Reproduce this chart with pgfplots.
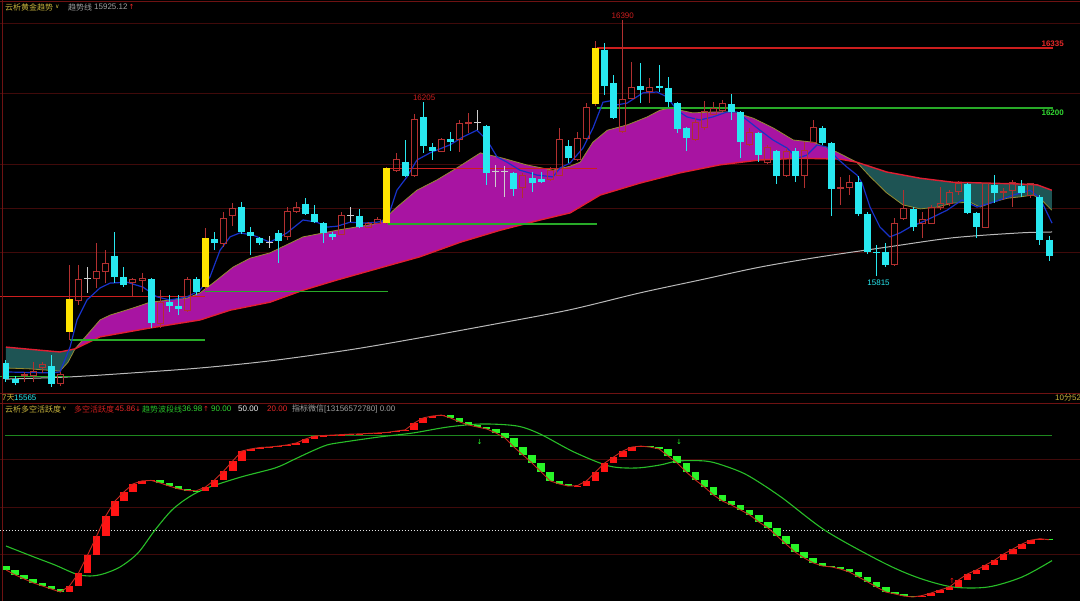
\documentclass[border=0pt]{standalone}
\usepackage{pgfplots}
\pgfplotsset{compat=1.18}
\usepackage{pgfplotstable}
\usepgfplotslibrary{fillbetween}
\usepackage{fontspec}
\setmainfont{Liberation Sans}
\newfontfamily\cjk{Noto Sans CJK SC}
\newfontfamily\dv{DejaVu Sans}

\definecolor{cyanc}{RGB}{40,232,240}
\definecolor{upred}{RGB}{178,48,48}
\definecolor{yel}{RGB}{255,228,0}
\definecolor{dojic}{RGB}{205,205,205}
\definecolor{magc}{RGB}{168,20,162}
\definecolor{tealc}{RGB}{30,84,84}
\definecolor{slowc}{RGB}{225,30,50}
\definecolor{fastc}{RGB}{150,140,50}
\definecolor{bluec}{RGB}{24,50,200}
\definecolor{greyc}{RGB}{185,185,185}
\definecolor{gridc}{RGB}{64,10,10}
\definecolor{framec}{RGB}{110,18,18}
\definecolor{lvred}{RGB}{205,30,30}
\definecolor{lvgreen}{RGB}{40,170,40}
\definecolor{lblred}{RGB}{230,40,40}
\definecolor{lblgreen}{RGB}{50,215,50}
\definecolor{hdr}{RGB}{200,180,60}
\definecolor{txtgrey}{RGB}{160,160,160}
\definecolor{oscred}{RGB}{255,20,20}
\definecolor{oscgreen}{RGB}{40,245,40}
\definecolor{osclinec}{RGB}{200,40,30}
\definecolor{siggreen}{RGB}{40,190,40}
\definecolor{line90}{RGB}{30,135,30}
\pagecolor{black}

% candles: i open high low close
\pgfplotstableread{
i o h l c
0 15618 15625 15576 15582
1 15582 15589 15568 15573
5 15611 15636 15565 15570
12 15859 15913 15798 15812
13 15812 15834 15789 15794
16 15807 15809 15697 15708
18 15755 15771 15733 15746
19 15746 15771 15726 15740
21 15807 15812 15771 15778
23 15897 15913 15872 15888
26 15969 15980 15908 15913
27 15913 15924 15861 15904
28 15899 15901 15884 15888
30 15911 15917 15843 15893
33 15976 15989 15951 15953
34 15953 15974 15933 15935
35 15933 15935 15888 15911
36 15908 15913 15895 15902
39 15949 15965 15922 15924
44 16070 16120 16037 16039
46 16172 16205 16091 16106
47 16104 16113 16075 16095
49 16122 16138 16095 16115
53 16151 16154 16019 16046
56 16046 16048 15994 16010
58 16034 16048 16003 16023
59 16032 16048 16023 16025
62 16106 16120 16068 16079
66 16322 16338 16221 16241
67 16248 16266 16167 16169
70 16241 16293 16203 16232
72 16241 16289 16228 16237
73 16237 16262 16194 16205
74 16203 16205 16136 16145
75 16147 16149 16095 16124
80 16201 16223 16165 16183
81 16183 16185 16080 16115
83 16136 16138 16070 16086
85 16095 16097 16021 16039
87 16095 16102 16025 16039
90 16147 16151 16109 16113
91 16113 16115 15949 16010
94 16025 16039 15949 15953
95 15953 15958 15863 15868
96 15868 15884 15815 15866
97 15868 15888 15834 15839
100 15965 15969 15915 15924
106 16021 16023 15953 15956
107 15956 15958 15899 15924
109 16019 16041 15978 16001
112 16016 16030 15992 16001
114 15992 15996 15884 15895
115 15895 15904 15848 15859
}\downT

\pgfplotstableread{
i o h l c
2 15589 15598 15576 15593
3 15591 15620 15576 15598
4 15607 15620 15596 15614
6 15573 15598 15566 15593
8 15758 15839 15749 15807
10 15809 15888 15787 15823
11 15825 15872 15798 15843
14 15800 15809 15767 15805
15 15803 15821 15778 15809
17 15706 15782 15697 15755
20 15737 15812 15733 15807
24 15888 15958 15879 15944
25 15949 15978 15926 15965
31 15902 15969 15895 15960
32 15958 15980 15956 15969
37 15908 15958 15906 15949
40 15924 15935 15922 15931
41 15933 15947 15931 15940
43 16052 16091 16048 16075
45 16041 16178 16037 16167
48 16095 16124 16093 16122
50 16122 16165 16093 16156
51 16156 16181 16136 16160
57 16014 16046 15989 16041
60 16030 16059 16028 16052
61 16041 16147 16039 16120
63 16075 16138 16073 16124
64 16124 16203 16120 16194
68 16138 16390 16136 16210
69 16214 16295 16212 16237
71 16230 16259 16203 16237
76 16120 16169 16118 16160
77 16147 16208 16142 16183
78 16178 16205 16176 16190
79 16187 16210 16183 16201
82 16109 16147 16106 16136
84 16070 16109 16066 16104
86 16039 16102 16037 16093
88 16039 16115 16012 16097
89 16115 16165 16113 16149
92 16010 16037 15974 16014
93 16014 16041 15996 16025
98 15839 15944 15836 15931
99 15944 16007 15940 15965
101 15933 15958 15899 15940
102 15933 15974 15931 15969
103 15969 16014 15962 15978
104 15978 16007 15971 16001
105 16003 16028 15996 16021
108 15924 16023 15922 16021
110 16001 16012 15985 16005
111 16007 16030 15969 16025
113 15996 16021 15989 16021
}\upT

\pgfplotstableread{
i o h l c
7 15688 15839 15670 15762
22 15789 15922 15782 15899
42 15933 16059 15931 16057
65 16201 16343 16196 16327
}\yelT

\pgfplotstableread{
i o h l c
9 15809 15834 15776 15810
29 15890 15904 15877 15891
38 15949 15969 15935 15950
52 16160 16187 16142 16161
54 16048 16064 16014 16048
55 16048 16061 15992 16048
}\dojiT

\pgfplotstableread{
i p
0 15607
2.65 15605
5.95 15600
6.84 15620
7.61 15650
8.16 15663
10.36 15715
11.47 15726
14.0 15742
15.88 15755
19.96 15764
21.39 15776
22.82 15798
25.03 15834
26.9 15854
29.1 15866
32.75 15902
36.5 15917
41.2 15933
43.1 15969
45.3 16007
47.5 16030
49.7 16057
52.3 16091
54.8 16079
57.4 16064
60.3 16052
62.2 16061
63.3 16070
64.7 16115
66.3 16142
68.5 16154
70.7 16172
72.1 16187
73.2 16192
75.7 16181
77.9 16183
80.2 16183
82.4 16169
84.6 16147
86.8 16120
89.0 16115
91.6 16093
93.8 16070
95.3 16037
97.1 16001
98.9 15974
100.8 15965
102.6 15969
104.4 15978
106.3 15980
107.4 15969
108.8 15980
110.4 15989
111.8 15992
113.2 15996
114.0 15989
115.3 15962
}\fastT

\pgfplotstableread{
i p
0 15654
3.75 15647
5.95 15643
7.61 15650
10.36 15677
15.88 15697
21.39 15715
24.7 15737
29.1 15755
32.75 15782
36.5 15805
41.2 15832
45.6 15857
50.1 15890
54.5 15917
58.9 15940
62.2 15956
65.5 15996
69.9 16023
74.3 16046
78.7 16064
83.1 16075
87.5 16079
91.95 16077
93.8 16070
97.1 16048
100.8 16034
104.4 16025
108.2 16023
111.8 16021
113.7 16019
115.3 16007
}\slowT

\pgfplotstableread{
i p
0.11 15598
4.85 15596
5.95 15598
7.06 15654
7.83 15715
8.93 15760
10.36 15787
11.47 15798
13.34 15800
15.1 15789
16.65 15767
18.08 15760
19.96 15767
21.39 15782
22.49 15812
23.6 15872
24.7 15902
25.8 15911
27.23 15906
29.1 15890
30.98 15911
32.75 15940
34.29 15935
35.39 15924
36.49 15926
37.93 15935
39.36 15933
40.9 15935
42.0 15940
43.1 16007
44.21 16037
45.31 16075
46.75 16091
48.95 16109
50.39 16127
51.93 16142
53.03 16120
54.13 16082
55.24 16070
56.67 16052
58.55 16041
60.31 16037
61.08 16057
62.18 16068
63.62 16102
64.72 16147
65.82 16205
66.59 16208
67.37 16199
68.47 16203
70.23 16226
71.77 16228
72.88 16217
73.98 16187
75.08 16172
76.52 16165
77.95 16172
79.49 16183
80.6 16183
81.7 16165
83.13 16142
84.56 16120
86.11 16102
87.21 16079
88.31 16086
89.42 16109
90.52 16104
91.62 16079
92.72 16059
93.83 16041
94.38 16023
95.26 15969
96.36 15924
97.46 15902
98.57 15911
99.67 15924
101.54 15940
103.75 15962
105.4 15985
107.06 15969
108.82 15980
111.03 15996
112.9 16007
114.0 15989
115.33 15933
}\blueT

\pgfplotstableread{
i p
0 15582
7.06 15587
14.0 15596
21.39 15607
29.1 15623
37.93 15648
45.65 15675
54.47 15708
62.18 15738
69.9 15776
76.52 15805
83.13 15834
89.75 15857
97.13 15879
104.41 15900
111.8 15911
115.33 15913
}\greyT

% oscillator: i previous value, value
\pgfplotstableread{
i p v
7 23.6 26.2
8 26.2 31.7
9 31.7 39.4
10 39.4 47.5
11 47.5 56.0
12 56.0 62.3
13 62.3 66.2
14 66.2 69.6
15 69.6 70.9
16 70.9 71.1
22 66.7 68.3
23 68.3 71.3
24 71.3 75.1
25 75.1 79.4
26 79.4 83.6
27 83.6 84.5
28 84.5 85.1
29 85.1 85.3
30 85.3 85.7
31 85.7 86.2
32 86.2 87.0
33 87.0 88.7
34 88.7 90.0
35 90.0 90.2
36 90.2 90.4
37 90.4 90.6
38 90.6 90.8
39 90.8 90.9
40 90.9 91.1
41 91.1 91.3
42 91.3 91.5
43 91.5 92.1
44 92.1 92.6
45 92.6 95.5
46 95.5 97.7
47 97.7 98.5
48 98.5 98.9
63 68.7 68.9
64 68.9 70.9
65 70.9 74.7
66 74.7 78.5
67 78.5 81.1
68 81.1 83.6
69 83.6 85.3
70 85.3 85.7
101 21.5 22.1
102 22.1 23.2
103 23.2 24.5
104 24.5 25.7
105 25.7 28.7
106 28.7 31.3
107 31.3 33.0
108 33.0 35.1
109 35.1 37.2
110 37.2 39.8
111 39.8 41.9
112 41.9 44.0
113 44.0 45.7
114 45.7 46.3
}\riseT

\pgfplotstableread{
i p v
0 34.5 33.0
1 33.0 30.9
2 30.9 29.2
3 29.2 27.5
4 27.5 26.2
5 26.2 24.9
6 24.9 23.6
17 71.1 70.0
18 70.0 68.7
19 68.7 67.5
20 67.5 66.8
21 66.8 66.7
49 98.9 97.7
50 97.7 96.0
51 96.0 94.7
52 94.7 93.8
53 93.8 93.0
54 93.0 91.3
55 91.3 89.2
56 89.2 85.3
57 85.3 81.9
58 81.9 78.5
59 78.5 74.7
60 74.7 70.9
61 70.9 69.6
62 69.6 68.7
71 85.7 85.3
72 85.3 84.5
73 84.5 81.5
74 81.5 78.5
75 78.5 74.7
76 74.7 71.3
77 71.3 68.3
78 68.3 64.9
79 64.9 62.3
80 62.3 60.6
81 60.6 58.5
82 58.5 56.4
83 56.4 53.4
84 53.4 50.9
85 50.9 47.5
86 47.5 44.0
87 44.0 40.6
88 40.6 38.1
89 38.1 36.0
90 36.0 34.7
91 34.7 34.3
92 34.3 33.4
93 33.4 32.1
94 32.1 30.0
95 30.0 27.9
96 27.9 25.7
97 25.7 23.6
98 23.6 22.8
99 22.8 21.9
100 21.9 21.5
115 46.3 45.86
}\fallT

\pgfplotstableread{
i v
0 33.0
1 30.9
2 29.2
3 27.5
4 26.2
5 24.9
6 23.6
7 26.2
8 31.7
9 39.4
10 47.5
11 56.0
12 62.3
13 66.2
14 69.6
15 70.9
16 71.1
17 70.0
18 68.7
19 67.5
20 66.8
21 66.7
22 68.3
23 71.3
24 75.1
25 79.4
26 83.6
27 84.5
28 85.1
29 85.3
30 85.7
31 86.2
32 87.0
33 88.7
34 90.0
35 90.2
36 90.4
37 90.6
38 90.8
39 90.9
40 91.1
41 91.3
42 91.5
43 92.1
44 92.6
45 95.5
46 97.7
47 98.5
48 98.9
49 97.7
50 96.0
51 94.7
52 93.8
53 93.0
54 91.3
55 89.2
56 85.3
57 81.9
58 78.5
59 74.7
60 70.9
61 69.6
62 68.7
63 68.9
64 70.9
65 74.7
66 78.5
67 81.1
68 83.6
69 85.3
70 85.7
71 85.3
72 84.5
73 81.5
74 78.5
75 74.7
76 71.3
77 68.3
78 64.9
79 62.3
80 60.6
81 58.5
82 56.4
83 53.4
84 50.9
85 47.5
86 44.0
87 40.6
88 38.1
89 36.0
90 34.7
91 34.3
92 33.4
93 32.1
94 30.0
95 27.9
96 25.7
97 23.6
98 22.8
99 21.9
100 21.5
101 22.1
102 23.2
103 24.5
104 25.7
105 28.7
106 31.3
107 33.0
108 35.1
109 37.2
110 39.8
111 41.9
112 44.0
113 45.7
114 46.3
115 45.86
}\oscT

\pgfplotstableread{
i v
0 43.19
3.09 38.51
5.40 35.11
7.72 31.28
9.26 30.43
10.69 31.28
12.57 34.26
14.55 40.21
16.43 50.0
18.30 58.51
20.18 64.04
22.16 67.87
25.91 72.55
29.66 76.38
31.64 79.79
33.52 83.19
35.39 86.17
37.27 87.45
41.12 89.57
44.87 91.28
48.73 93.83
52.48 95.11
56.34 94.26
58.88 90.85
62.62 83.19
66.48 77.23
69.46 76.38
72.11 77.66
74.09 79.36
77.07 79.36
78.94 77.66
81.70 73.40
85.45 64.04
90.41 49.57
96.80 35.96
100.66 29.57
104.41 25.74
108.27 25.74
112.02 30.0
115.33 36.98
}\sigT

\pgfplotsset{
  panel/.style={hide axis, scale only axis, width=1080pt, xmin=-0.6615, xmax=118.412, clip=true, anchor=north west, axis background/.style={fill=black}},
  wick/.style={line width=1pt},
  body/.style={line width=7pt, line cap=butt},
  gridline/.style={gridc, line width=0.6pt, on layer=axis grid},
}

\begin{document}
\begin{tikzpicture}[every node/.style={inner sep=0pt, font=\fontsize{8}{9.6}\selectfont}]
\fill[black] (0pt,-391pt) rectangle (1080pt,-404pt);

% ---------------- top panel ----------------
\begin{axis}[panel, at={(0pt,0pt)}, height=392pt, ymin=15553, ymax=16435]
\addplot[gridline] coordinates {(-1,16383) (119,16383)};
\addplot[gridline] coordinates {(-1,16224) (119,16224)};
\addplot[gridline] coordinates {(-1,16066) (119,16066)};
\addplot[gridline] coordinates {(-1,15967) (119,15967)};
\addplot[gridline] coordinates {(-1,15868) (119,15868)};

\addplot[greyc, line width=1pt, smooth] table[x=i,y=p] \greyT;

\addplot[draw=none, name path=fast] table[x=i,y=p] \fastT;
\addplot[draw=none, name path=slow] table[x=i,y=p] \slowT;
\addplot[tealc] fill between[of=fast and slow, soft clip={domain=0:7.61}];
\addplot[magc] fill between[of=fast and slow, soft clip={domain=7.61:93.8}];
\addplot[tealc] fill between[of=fast and slow, soft clip={domain=93.8:115.3}];
\addplot[fastc, line width=0.8pt] table[x=i,y=p] \fastT;
\addplot[slowc, line width=1.4pt] table[x=i,y=p] \slowT;

% support / resistance levels
\addplot[lvred, line width=1.2pt] coordinates {(-0.7,15767) (21.94,15767)};
\addplot[lvgreen, line width=1.2pt] coordinates {(-0.7,15587) (7.06,15587)};
\addplot[lvgreen, line width=1.2pt] coordinates {(7.06,15670) (21.94,15670)};
\addplot[lvgreen, line width=1.2pt] coordinates {(21.94,15780) (42.1,15780)};
\addplot[lvred, line width=1.2pt] coordinates {(42.1,16056) (65.2,16056)};
\addplot[lvgreen, line width=1.2pt] coordinates {(42.1,15931) (65.2,15931)};
\addplot[lvred, line width=1.2pt] coordinates {(65.2,16327) (115.4,16327)};
\addplot[lvgreen, line width=1.2pt] coordinates {(65.2,16192) (115.4,16192)};

\addplot[bluec, line width=1.2pt, line join=round] table[x=i,y=p] \blueT;

% down candles
\addplot[cyanc, wick, quiver={u=0,v=\thisrow{h}-\thisrow{l}}] table[x=i,y=l] \downT;
\addplot[cyanc, body, quiver={u=0,v=\thisrow{c}-\thisrow{o}}] table[x=i,y=o] \downT;
% up (hollow) candles
\addplot[upred, wick, quiver={u=0,v=\thisrow{h}-\thisrow{c}}] table[x=i,y=c] \upT;
\addplot[upred, wick, quiver={u=0,v=\thisrow{o}-\thisrow{l}}] table[x=i,y=l] \upT;
\addplot[upred, wick, quiver={u=0,v=\thisrow{c}-\thisrow{o}}] table[x expr=\thisrow{i}-0.33,y=o] \upT;
\addplot[upred, wick, quiver={u=0,v=\thisrow{c}-\thisrow{o}}] table[x expr=\thisrow{i}+0.33,y=o] \upT;
\addplot[upred, only marks, mark=-, mark size=3.5pt, mark options={line width=1pt, draw=upred}] table[x=i,y=o] \upT;
\addplot[upred, only marks, mark=-, mark size=3.5pt, mark options={line width=1pt, draw=upred}] table[x=i,y=c] \upT;
% yellow candles
\addplot[upred, wick, quiver={u=0,v=\thisrow{h}-\thisrow{l}}] table[x=i,y=l] \yelT;
\addplot[yel, body, quiver={u=0,v=\thisrow{c}-\thisrow{o}}] table[x=i,y=o] \yelT;
% doji
\addplot[dojic, wick, quiver={u=0,v=\thisrow{h}-\thisrow{l}}] table[x=i,y=l] \dojiT;
\addplot[dojic, only marks, mark=-, mark size=3.5pt, mark options={line width=1pt, draw=dojic}] table[x=i,y=o] \dojiT;

\node[text=lvred, anchor=south] at (axis cs:68,16392) {16390};
\node[text=lvred, anchor=south] at (axis cs:46.1,16208) {16205};
\node[text=cyanc, anchor=north] at (axis cs:96.2,15806) {15815};
\node[text=lblred, anchor=south east] at (axis cs:116.65,16330) {\bfseries 16335};
\node[text=lblgreen, anchor=north east] at (axis cs:116.65,16189) {\bfseries 16200};
\end{axis}

% ---------------- bottom panel ----------------
\begin{axis}[panel, at={(0pt,-403pt)}, height=198pt, ymin=19.79, ymax=104.04]
\addplot[gridline] coordinates {(-1,80.2) (119,80.2)};
\addplot[gridline] coordinates {(-1,59.8) (119,59.8)};
\addplot[gridline] coordinates {(-1,39.8) (119,39.8)};
\addplot[line90, line width=1pt] coordinates {(-0.11,90) (115.3,90)};
\addplot[white!80!gray, line width=0.7pt, dash pattern=on 1.5pt off 1.5pt] coordinates {(-0.7,50) (115.3,50)};
\addplot[siggreen, line width=1.1pt, smooth] table[x=i,y=v] \sigT;
\addplot[oscred, line width=7.5pt, line cap=butt, quiver={u=0,v=\thisrow{v}-\thisrow{p}}] table[x=i,y=p] \riseT;
\addplot[oscgreen, line width=7.5pt, line cap=butt, quiver={u=0,v=\thisrow{v}-\thisrow{p}}] table[x=i,y=p] \fallT;
\addplot[osclinec, line width=0.9pt] table[x=i,y=v] \oscT;
\node[text=oscgreen, font=\dv\fontsize{7}{7}\selectfont] at (axis cs:52.2,87.5) {↓};
\node[text=oscgreen, font=\dv\fontsize{7}{7}\selectfont] at (axis cs:74.2,87.5) {↓};
\node[text=oscred, font=\dv\fontsize{7}{7}\selectfont] at (axis cs:104.3,28.3) {↑};
\end{axis}

% frame lines
\draw[framec, line width=0.8pt] (0pt,-1.5pt) -- (1080pt,-1.5pt);
\draw[framec, line width=0.8pt] (2.5pt,0pt) -- (2.5pt,-601pt);
\draw[framec, line width=0.8pt] (0pt,-393pt) -- (1080pt,-393pt);
\draw[framec, line width=0.8pt] (0pt,-403pt) -- (1080pt,-403pt);

% header texts
\node[anchor=west, text=hdr] at (5pt,-7pt) {\cjk 云析黄金趋势};
\node[anchor=west, text=hdr, font=\dv\fontsize{6}{6}\selectfont] at (55pt,-7pt) {∨};
\node[anchor=west, text=txtgrey] at (68pt,-7pt) {\cjk 趋势线};
\node[anchor=west, text=txtgrey] at (94pt,-7pt) {15925.12};
\node[anchor=west, text=lblred, font=\dv\fontsize{7}{7}\selectfont] at (128.5pt,-7pt) {↑};

\node[anchor=west, text=hdr] at (2pt,-397.5pt) {7\cjk 天};
\node[anchor=west, text=cyanc] at (14pt,-397.5pt) {15565};
\node[anchor=west, text=hdr] at (1055pt,-397.5pt) {10\cjk 分\rmfamily 52};

\node[anchor=west, text=hdr] at (5pt,-409pt) {\cjk 云析多空活跃度};
\node[anchor=west, text=hdr, font=\dv\fontsize{6}{6}\selectfont] at (62pt,-409pt) {∨};
\node[anchor=west, text=lvred] at (74pt,-409pt) {\cjk 多空活跃度};
\node[anchor=west, text=lblred] at (115pt,-409pt) {45.86};
\node[anchor=west, text=lblred, font=\dv\fontsize{7}{7}\selectfont] at (135pt,-409pt) {↓};
\node[anchor=west, text=siggreen] at (142pt,-409pt) {\cjk 趋势波段线};
\node[anchor=west, text=lblgreen] at (182pt,-409pt) {36.98};
\node[anchor=west, text=lblred, font=\dv\fontsize{7}{7}\selectfont] at (203pt,-409pt) {↑};
\node[anchor=west, text=lblgreen] at (211pt,-409pt) {90.00};
\node[anchor=west, text=white!90!gray] at (238pt,-409pt) {50.00};
\node[anchor=west, text=lblred] at (267pt,-409pt) {20.00};
\node[anchor=west, text=txtgrey] at (292pt,-409pt) {\cjk 指标微信\rmfamily[13156572780] 0.00};

\pgfresetboundingbox
\useasboundingbox (0pt,0pt) rectangle (1080pt,-601pt);
\end{tikzpicture}
\end{document}
